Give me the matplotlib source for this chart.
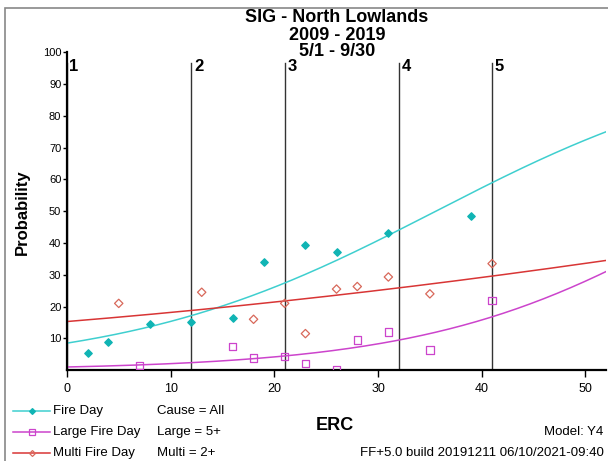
import numpy as np
import matplotlib.pyplot as plt
from matplotlib.lines import Line2D
from matplotlib.patches import Rectangle

plt.rcParams['font.family'] = ['Liberation Sans Narrow', 'Liberation Sans', 'DejaVu Sans']

# observed points (ERC, probability %)
fire_erc = [2, 4, 8, 12, 16, 19, 23, 26, 31, 39]
fire_prob = [5.5, 9, 14.5, 15, 16.5, 34, 39.5, 37, 43, 48.5]

large_erc = [7, 16, 18, 21, 23, 26, 28, 31, 35, 41]
large_prob = [1.5, 7.5, 3.8, 4.3, 2.2, 0.3, 9.5, 12, 6.3, 22]

multi_erc = [5, 13, 18, 21, 23, 26, 28, 31, 35, 41]
multi_prob = [21, 24.5, 16, 21, 11.5, 25.5, 26.3, 29.3, 24, 33.5]

# logistic model coefficients (intercept, slope)
fire_model = (-2.377, 0.0668)
large_model = (-4.595, 0.0730)
multi_model = (-1.712, 0.0206)

breakpoints = [0, 12, 21, 32, 41]
break_labels = ['1', '2', '3', '4', '5']

title_lines = ['SIG - North Lowlands', '2009 - 2019', '5/1 - 9/30']

c_fire = '#3fcfcf'
c_fire_pt = '#10b4b4'
c_large = '#cc44cc'
c_multi = '#d83535'
c_multi_pt = '#d8685a'

fig = plt.figure(figsize=(6.08, 4.61), dpi=100)
ax = fig.add_axes([0.110, 0.197, 0.887, 0.690])

x = np.linspace(0, 52, 200)
def curve(model):
    b0, b1 = model
    return 100 / (1 + np.exp(-(b0 + b1 * x)))

ax.plot(x, curve(fire_model), color=c_fire, lw=1.1)
ax.plot(x, curve(multi_model), color=c_multi, lw=1.1)
ax.plot(x, curve(large_model), color=c_large, lw=1.1)

ax.scatter(fire_erc, fire_prob, marker='D', s=14, color=c_fire_pt, zorder=3)
ax.scatter(large_erc, large_prob, marker='s', s=28, facecolors='none',
           edgecolors=c_large, linewidths=0.9, zorder=3)
ax.scatter(multi_erc, multi_prob, marker='D', s=18, facecolors='none',
           edgecolors=c_multi_pt, linewidths=0.9, zorder=3)

for b, lab in zip(breakpoints, break_labels):
    ax.plot([b, b], [0, 96.5], color='#333333', lw=1.0, zorder=1)
    ax.text(b + 0.25, 95.5, lab, fontsize=12, fontweight='bold',
            family=['Liberation Sans', 'DejaVu Sans'], va='center', ha='left')

ax.set_xlim(0, 52)
ax.set_ylim(0, 100)
ax.set_xticks([0, 10, 20, 30, 40, 50])
ax.set_yticks([10, 20, 30, 40, 50, 60, 70, 80, 90, 100])
ax.tick_params(axis='both', labelsize=8, length=3, width=1, pad=1)
ax.tick_params(axis='x', labelsize=9, length=5, pad=4)
for s in ['top', 'right']:
    ax.spines[s].set_visible(False)
for s in ['left', 'bottom']:
    ax.spines[s].set_linewidth(1.6)

# title, one line at a time
for line, ypx in zip(title_lines, [17.5, 35.5, 51]):
    fig.text(0.554, 1 - ypx / 461, line, fontsize=13, fontweight='bold',
             family=['Liberation Sans', 'DejaVu Sans'], ha='center', va='center')

fig.text(0.036, 0.54, 'Probability', rotation=90, fontsize=12, fontweight='bold',
         family=['Liberation Sans', 'DejaVu Sans'], ha='center', va='center')
fig.text(0.551, 0.078, 'ERC', fontsize=13, fontweight='bold',
         family=['Liberation Sans', 'DejaVu Sans'], ha='center', va='center')

# legend
leg_rows = [(c_fire, 'D', c_fire_pt, 'full', 'Fire Day', 'Cause = All'),
            (c_large, 's', c_large, 'none', 'Large Fire Day', 'Large = 5+'),
            (c_multi, 'D', c_multi_pt, 'none', 'Multi Fire Day', 'Multi = 2+')]
for i, (lc, mk, mc, fs, lab, note) in enumerate(leg_rows):
    yy = 1 - (411 + i * 21) / 461
    fig.add_artist(Line2D([0.022, 0.082], [yy, yy], color=lc, lw=1.1))
    fig.add_artist(Line2D([0.052], [yy], marker=mk, markersize=3.0 if mk == 'D' else 4.5,
                          color=mc, fillstyle=fs, markeredgewidth=0.9, lw=0))
    fig.text(0.087, yy, lab, fontsize=9.5, va='center', ha='left')
    fig.text(0.258, yy, note, fontsize=9.5, va='center', ha='left')

fig.text(0.993, 1 - 432 / 461, 'Model: Y4', fontsize=9.5, va='center', ha='right')
fig.text(0.993, 1 - 453 / 461, 'FF+5.0 build 20191211 06/10/2021-09:40', fontsize=9.5,
         va='center', ha='right')

fig.add_artist(Rectangle((0.008, -0.01), 1.1, 1 - 8 / 461 + 0.01, transform=fig.transFigure,
                         fill=False, edgecolor='#888888', lw=1.2))

fig.savefig('out.png', dpi=100)
